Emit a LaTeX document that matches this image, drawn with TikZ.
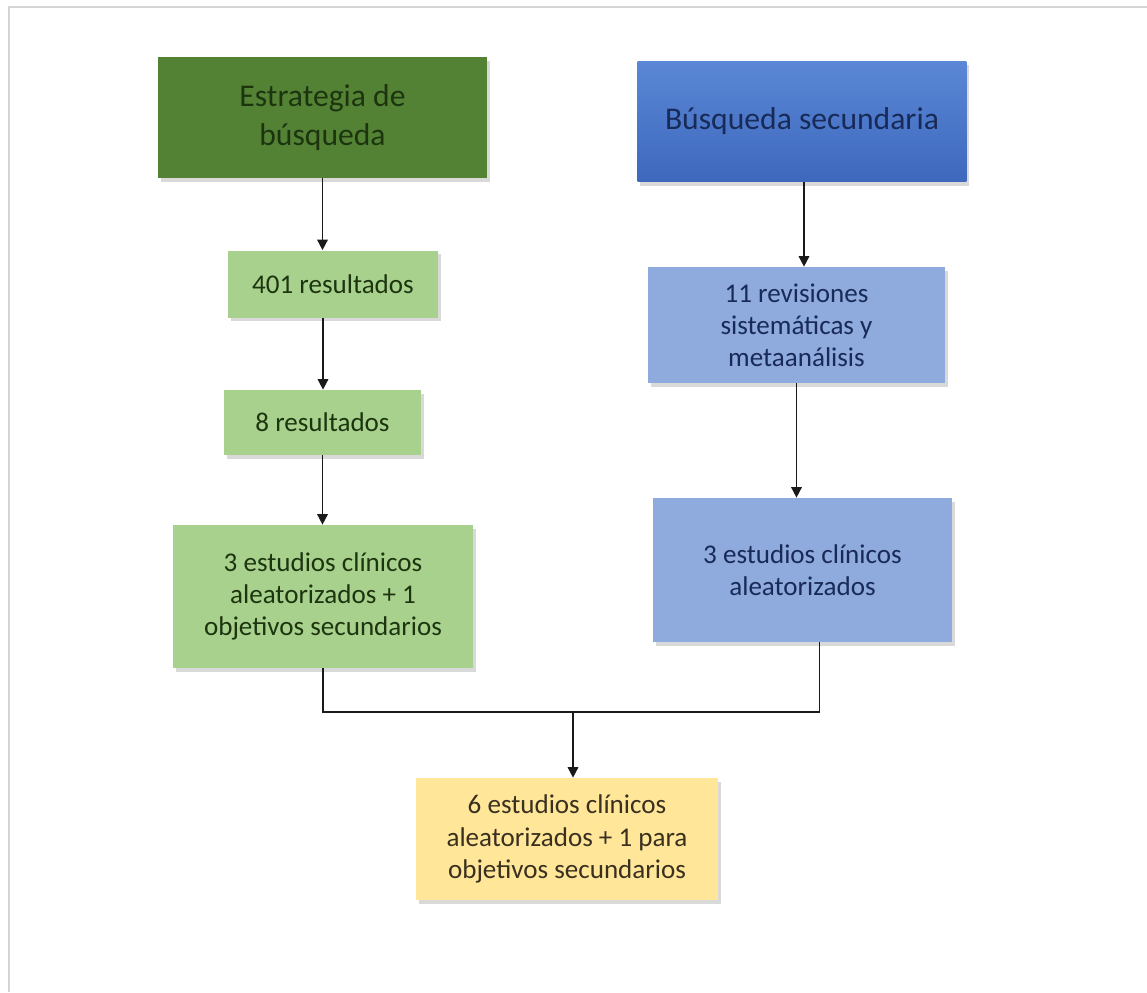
\documentclass[tikz,border=0pt]{standalone}
\usepackage{fontspec}
\setmainfont{Carlito}
\usetikzlibrary{arrows.meta,shadows}
\definecolor{FlowFrame}{HTML}{D4D4D4}
\definecolor{FlowGreenDark}{HTML}{548235}
\definecolor{FlowGreenLight}{HTML}{A9D18E}
\definecolor{FlowGreenInk}{HTML}{1C350F}
\definecolor{FlowBlueTop}{HTML}{5B87D6}
\definecolor{FlowBlueBottom}{HTML}{3D68BD}
\definecolor{FlowBlueLight}{HTML}{8FAADC}
\definecolor{FlowBlueInk}{HTML}{182A58}
\definecolor{FlowYellow}{HTML}{FFE699}
\definecolor{FlowYellowInk}{HTML}{3A3020}
\definecolor{FlowLine}{HTML}{1A1A1A}

\begin{document}
\begin{tikzpicture}[x=0.02cm,y=-0.02cm,
    box/.style={align=center,inner sep=0pt,font=\fontsize{15.4}{18.3}\selectfont,
      drop shadow={shadow xshift=1.5pt,shadow yshift=-2pt,opacity=0.3}},
    headbox/.style={box,font=\fontsize{18}{22}\selectfont},
    arr/.style={FlowLine,line width=0.9pt,-{Triangle[width=6pt,length=6pt]}},
    link/.style={FlowLine,line width=0.9pt}]
  \useasboundingbox (0,0) rectangle (1147,992);
  \draw[FlowFrame,line width=1.5pt] (9,992) -- (9,7) -- (1147,7);
  % left column
  \node[headbox,fill=FlowGreenDark,text=FlowGreenInk,minimum width=6.58cm,minimum height=2.42cm]
    (strat) at (322.5,117.5) {Estrategia de\\búsqueda};
  \node[box,fill=FlowGreenLight,text=FlowGreenInk,minimum width=4.2cm,minimum height=1.34cm]
    (r401) at (333,284) {401 resultados};
  \node[box,fill=FlowGreenLight,text=FlowGreenInk,minimum width=3.94cm,minimum height=1.3cm]
    (r8) at (322.5,422.5) {8 resultados};
  \node[box,fill=FlowGreenLight,text=FlowGreenInk,minimum width=6.0cm,minimum height=2.86cm]
    (est3) at (323,596.5) {3 estudios clínicos\\aleatorizados + 1\\objetivos secundarios};
  % right column
  \node[headbox,top color=FlowBlueTop,bottom color=FlowBlueBottom,text=FlowBlueInk,minimum width=6.58cm,minimum height=2.42cm]
    (sec) at (802,121.5) {Búsqueda secundaria};
  \node[box,fill=FlowBlueLight,text=FlowBlueInk,minimum width=5.94cm,minimum height=2.32cm]
    (rev11) at (796.5,325) {11 revisiones\\sistemáticas y\\metaanálisis};
  \node[box,fill=FlowBlueLight,text=FlowBlueInk,minimum width=5.98cm,minimum height=2.88cm]
    (est3b) at (802.5,570) {3 estudios clínicos\\aleatorizados};
  % result
  \node[box,fill=FlowYellow,text=FlowYellowInk,minimum width=6.04cm,minimum height=2.44cm]
    (fin) at (567,839) {6 estudios clínicos\\aleatorizados + 1 para\\objetivos secundarios};
  \coordinate (join) at (573,712);

  \draw[arr] (strat.south) -- (strat.south |- r401.north);
  \draw[arr] ([xshift=-0.2cm]r401.south) -- ([xshift=-0.2cm]r401.south |- r8.north);
  \draw[arr] (r8.south) -- (r8.south |- est3.north);
  \draw[arr] ([xshift=0.04cm]sec.south) -- ([xshift=0.04cm]sec.south |- rev11.north);
  \draw[arr] (rev11.south) -- (rev11.south |- est3b.north);
  \draw[link] (est3.south) |- (join) -| ([xshift=0.34cm]est3b.south);
  \draw[arr] (join) -- (join |- fin.north);
\end{tikzpicture}
\end{document}
